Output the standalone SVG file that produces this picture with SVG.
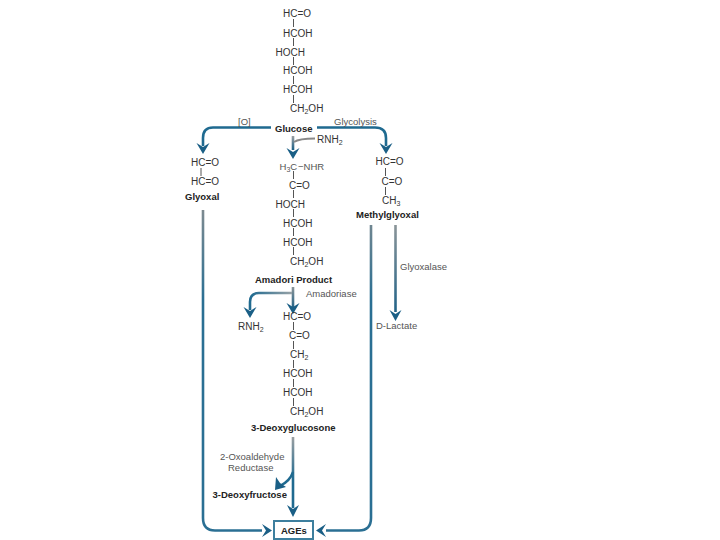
<svg xmlns="http://www.w3.org/2000/svg" width="720" height="540" viewBox="0 0 720 540">
<style>
text{font-family:"Liberation Sans",Arial,sans-serif;font-size:10px;fill:#333}
.b{font-weight:bold;fill:#222;font-size:9.5px}
.l{fill:#555;font-size:9.5px}
.bond{stroke:#555;stroke-width:1;fill:none}
.c{stroke:#1f6a90;stroke-width:2.6;fill:none}
.t{stroke:#1f6a90;stroke-width:2.4;fill:none}
.h{fill:#1a5f86}
</style>
<defs>
<linearGradient id="g1" gradientUnits="userSpaceOnUse" x1="0" y1="210" x2="0" y2="300"><stop offset="0" stop-color="#7d8a90"/><stop offset="1" stop-color="#2a6f93"/></linearGradient>
<linearGradient id="g2" gradientUnits="userSpaceOnUse" x1="0" y1="225" x2="0" y2="318"><stop offset="0" stop-color="#8a9498"/><stop offset="1" stop-color="#1a5f86"/></linearGradient>
<linearGradient id="g3" gradientUnits="userSpaceOnUse" x1="0" y1="437" x2="0" y2="480"><stop offset="0" stop-color="#9a9fa2"/><stop offset="1" stop-color="#1f6a90"/></linearGradient>
<linearGradient id="g4" gradientUnits="userSpaceOnUse" x1="0" y1="287" x2="0" y2="310"><stop offset="0" stop-color="#8a9498"/><stop offset="1" stop-color="#1a5f86"/></linearGradient>
<linearGradient id="g5" gradientUnits="userSpaceOnUse" x1="295" y1="293" x2="250" y2="293"><stop offset="0" stop-color="#a0a6a8"/><stop offset="1" stop-color="#1f6a90"/></linearGradient>
<linearGradient id="g6" gradientUnits="userSpaceOnUse" x1="0" y1="136" x2="0" y2="150"><stop offset="0" stop-color="#9a9fa2"/><stop offset="1" stop-color="#1a5f86"/></linearGradient>
</defs>

<g id="connectors">
<path class="c" d="M271 127.500H213Q203 127.500 203 138V146"/>
<path class="h" d="M196.500 143L203 147L209.500 143L203 154Z"/>
<path class="c" d="M317 127.500H375Q386 127.500 386 138V146"/>
<path class="h" d="M379.500 143L386 147L392.500 143L386 154Z"/>
<path d="M293 136V150" stroke="url(#g6)" stroke-width="2.600" fill="none"/>
<path d="M294 142Q299 138.500 315 138.500" stroke="#888" stroke-width="1.800" fill="none"/>
<path class="h" d="M286.500 148L293 152L299.500 148L293 159Z"/>
<path d="M293 287V307" stroke="url(#g4)" stroke-width="2.600" fill="none"/>
<path class="h" d="M286.500 303L293 307L299.500 303L293 314Z"/>
<path d="M292 293H259Q250 293 250 302V310" stroke="url(#g5)" stroke-width="2.600" fill="none"/>
<path class="h" d="M243.500 307L250 311L256.500 307L250 318Z"/>
<path d="M395.500 225V312" stroke="url(#g2)" stroke-width="2.600" fill="none"/>
<path class="h" d="M389.500 310L395.500 314L401.500 310L395.500 321Z"/>
<path d="M203 210V518Q203 530.500 215 530.500H262" stroke="url(#g1)" stroke-width="2.600" fill="none"/>
<path class="h" d="M262 524L266 530.500L262 537L272 530.500Z"/>
<path d="M371 225V518Q371 530.500 359 530.500H326" stroke="url(#g1)" stroke-width="2.600" fill="none"/>
<path class="h" d="M326 524L322 530.500L326 537L316 530.500Z"/>
<path d="M293 437V508" stroke="url(#g3)" stroke-width="2.600" fill="none"/>
<path class="h" d="M287 505L293 509L299 505L293 517Z"/>
<path class="t" d="M293 472Q290 481 280 486"/>
<path class="h" d="M276 477L280 483L286 487L275 490Z"/>
</g>

<g id="glucose-chain">
<path class="bond" d="M293.500 19V27M293.500 38V46M293.500 57V65M293.500 76V84M293.500 95V103"/>
<text x="283" y="17">HC=O</text>
<text x="283" y="36.500">HCOH</text>
<text x="275.500" y="55.500">HOCH</text>
<text x="283" y="74">HCOH</text>
<text x="283" y="93">HCOH</text>
<text x="290" y="112">CH<tspan font-size="7" dy="2">2</tspan><tspan dy="-2">OH</tspan></text>
</g>
<g id="glucose">
<text class="b" x="275" y="132">Glucose</text>
<text class="l" x="238" y="125">[O]</text>
<text class="l" x="334" y="125">Glycolysis</text>
<text x="317" y="143">RNH<tspan font-size="7" dy="2">2</tspan></text>
</g>

<g id="glyoxal">
<path class="bond" d="M201 168V176"/>
<text x="191" y="165.500">HC=O</text>
<text x="191" y="184.500">HC=O</text>
<text class="b" x="185" y="200">Glyoxal</text>
</g>

<g id="amadori">
<path class="bond" d="M293.500 171V179M293.500 190V198M293.500 209V217M293.500 228V236M293.500 247V255"/>
<text class="l" x="279.500" y="169.500">H<tspan font-size="7" dy="2">3</tspan><tspan dy="-2">C</tspan></text>
<text class="l" x="298" y="169.500">−NHR</text>
<text x="289" y="188.500">C=O</text>
<text x="275.500" y="207.500">HOCH</text>
<text x="283" y="226.500">HCOH</text>
<text x="283" y="245.500">HCOH</text>
<text x="290" y="265">CH<tspan font-size="7" dy="2">2</tspan><tspan dy="-2">OH</tspan></text>
<text class="b" x="255" y="283">Amadori Product</text>
<text class="l" x="306" y="297">Amadoriase</text>
<text x="238" y="329.500">RNH<tspan font-size="7" dy="2">2</tspan></text>
</g>

<g id="methylglyoxal">
<path class="bond" d="M385.500 168V176M385.500 187V195"/>
<text x="375.500" y="165">HC=O</text>
<text x="381.500" y="184.500">C=O</text>
<text x="382" y="204">CH<tspan font-size="7" dy="2">3</tspan></text>
<text class="b" x="356" y="218">Methylglyoxal</text>
<text class="l" x="400" y="270">Glyoxalase</text>
<text class="l" x="376" y="329">D-Lactate</text>
</g>

<g id="deoxyglucosone">
<path class="bond" d="M293.500 322V330M293.500 341V349M293.500 360V368M293.500 379V387M293.500 398V406"/>
<text x="283" y="319.500">HC=O</text>
<text x="289" y="338.500">C=O</text>
<text x="290" y="358">CH<tspan font-size="7" dy="2">2</tspan></text>
<text x="283" y="376.500">HCOH</text>
<text x="283" y="395.500">HCOH</text>
<text x="290" y="414.500">CH<tspan font-size="7" dy="2">2</tspan><tspan dy="-2">OH</tspan></text>
<text class="b" x="251" y="431">3-Deoxyglucosone</text>
</g>

<g id="reductase">
<text class="l" x="220" y="460">2-Oxoaldehyde</text>
<text class="l" x="228" y="471">Reductase</text>
<text class="b" x="212.500" y="498">3-Deoxyfructose</text>
</g>

<g id="ages">
<rect x="274" y="521" width="39" height="18" fill="#fff" stroke="#3d7f9e" stroke-width="2"/>
<text class="b" x="281" y="534">AGEs</text>
</g>
</svg>
